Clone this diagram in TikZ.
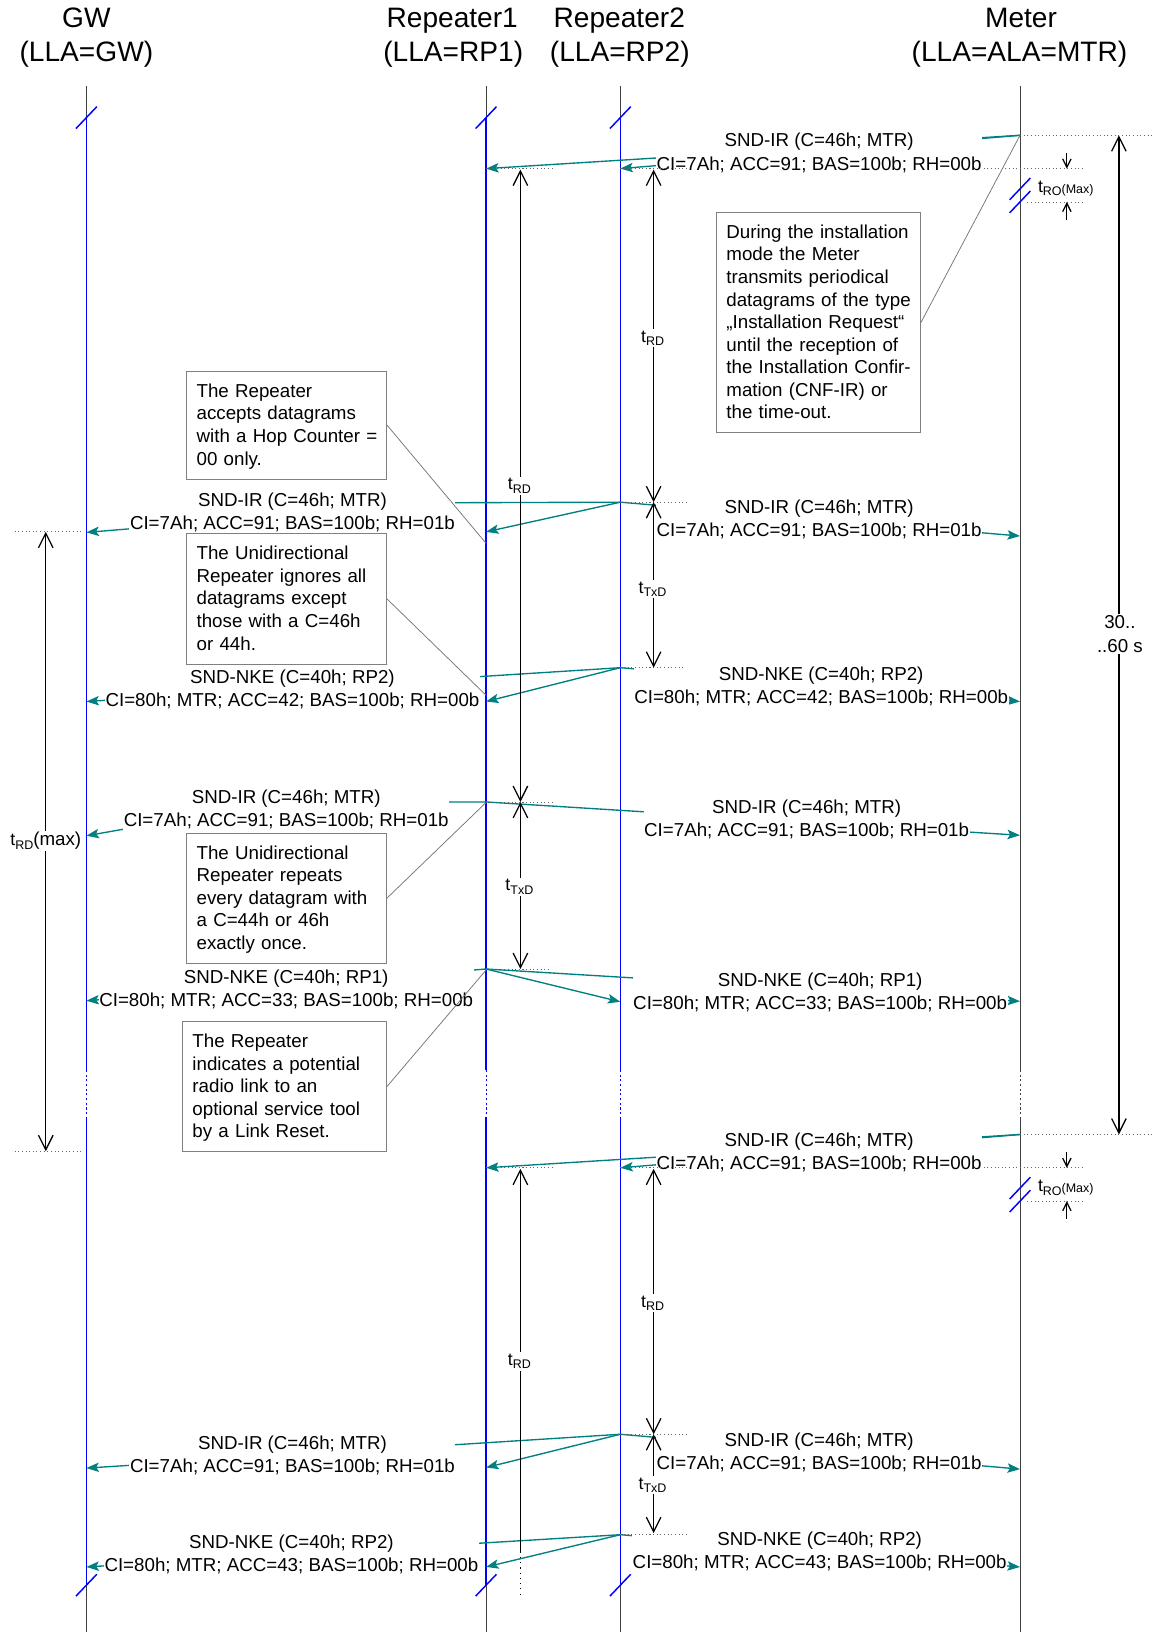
\documentclass[tikz,border=0pt]{standalone}
\usepackage{fontspec}
\setmainfont{Liberation Sans}
\usetikzlibrary{arrows.meta}
\newcommand\lblfont{\fontsize{18}{22.5}\selectfont}
\newcommand\notefont{\fontsize{18}{21.7}\selectfont}
\newcommand\ttlfont{\fontsize{27}{32}\selectfont}
\newcommand\tsym[1]{{\fontsize{17}{17}\selectfont t}{\fontsize{12}{12}\selectfont\raisebox{-3.5pt}{#1}}}
% note text: fixed lines, set flush left without any re-breaking
\newcommand\notelines[1]{\noindent\begin{tabular}{@{}l@{}}\rule{0pt}{18.2pt}#1\end{tabular}}
\begin{document}
\begin{tikzpicture}[x=1pt,y=-1pt,
  life/.style={draw=black!75,line width=0.9pt},
  lifeb/.style={draw=blue,line width=1.6pt},
  lifebrk/.style={line width=0.7pt,dash pattern=on 2pt off 2.5pt},
  slash/.style={draw=blue,line width=1.4pt},
  msg/.style={draw=teal,line width=1.3pt,-{Stealth[length=12pt,width=9pt,inset=2.5pt]}},
  lbl/.style={fill=white,inner xsep=0.5pt,inner ysep=2pt,align=center,font=\lblfont},
  ttl/.style={font=\ttlfont,inner sep=0pt,anchor=base},
  note/.style={draw=black!50,fill=white,line width=0.8pt,font=\notefont,align=left,inner xsep=9.5pt,inner ysep=0pt,anchor=north west},
  callout/.style={draw=black!55,line width=0.7pt},
  refl/.style={draw=black!60,line width=0.8pt,dash pattern=on 1pt off 2.5pt},
  dim/.style={draw=black,line width=1.2pt,{Straight Barb[length=14pt,width=14pt]}-{Straight Barb[length=14pt,width=14pt]}},
  dimS/.style={draw=black,line width=1.2pt,-{Straight Barb[length=8pt,width=8pt]}},
  dimT/.style={draw=black,line width=1.2pt,{Straight Barb[length=14pt,width=14pt]}-},
  dlbl/.style={fill=white,inner sep=1.5pt},
]
\fill[white] (0,0) rectangle (1108,1568);
\useasboundingbox (0,0) rectangle (1108,1568);

% ---------- titles ----------
\node[ttl] (tgw1) at (83,26.7) {GW};
\node[ttl] (tgw2) at (83,58.7) {(LLA=GW)};
\node[ttl] (tra1) at (434.5,26.7) {Repeater1};
\node[ttl] (tra2) at (435.5,58.7) {(LLA=RP1)};
\node[ttl] (trb1) at (595,26.7) {Repeater2};
\node[ttl] (trb2) at (595.5,58.7) {(LLA=RP2)};
\node[ttl] (tmt1) at (981,26.7) {Meter};
\node[ttl] (tmt2) at (979.5,58.7) {(LLA=ALA=MTR)};

% ---------- lifelines ----------
\foreach \n/\xx in {gw/83, ra/467, rb/596} {
  \coordinate (\n0) at (\xx,83);
  \coordinate (\n1) at (\xx,113);
  \coordinate (\n2) at (\xx,1028);
  \coordinate (\n3) at (\xx,1073);
  \coordinate (\n4) at (\xx,1523);
  \coordinate (\n5) at (\xx,1568);
  \draw[life] (\n0) -- (\n1);
  \draw[lifeb] (\n1) -- (\n2);
  \draw[lifeb,lifebrk] (\n2) -- (\n3);
  \draw[lifeb] (\n3) -- (\n4);
  \draw[life] (\n4) -- (\n5);
  \draw[slash] (\n1) ++(-10,10.5) -- ++(20,-21);
  \draw[slash] (\n4) ++(-10,10.5) -- ++(20,-21);
}
\coordinate (mt0) at (980,83);
\coordinate (mt2) at (980,1028);
\coordinate (mt3) at (980,1073);
\coordinate (mt5) at (980,1568);
\draw[life] (mt0) -- (mt2);
\draw[life,lifebrk] (mt2) -- (mt3);
\draw[life] (mt3) -- (mt5);
\foreach \yy in {181.5,194,1141.5,1154}
  \draw[slash] (980,\yy) ++(-10,10.5) -- ++(20,-21);

% ---------- messages ----------
% SND-IR from the meter (first period)
\coordinate (m1s) at (980,130);
\coordinate (m1a) at (467,162);
\coordinate (m1b) at (596,162);
\draw[msg] (m1s) -- (m1a);
\draw[msg] (m1s) -- (m1b);
% SND-IR repeated by Repeater2
\coordinate (m2s) at (596,482.5);
\coordinate (m2m) at (980,515);
\coordinate (m2a) at (467,511);
\coordinate (m2k1) at (438,483);
\coordinate (m2k2) at (125.5,508);
\coordinate (m2g) at (83,511.5);
\draw[msg] (m2s) -- (m2m);
\draw[msg] (m2s) -- (m2a);
\draw[msg] (m2s) -- (m2k1) -- (m2k2) -- (m2g);
% SND-NKE from Repeater2
\coordinate (m3s) at (596,641.5);
\coordinate (m3m) at (980,674);
\coordinate (m3a) at (467,674);
\coordinate (m3g) at (83,674);
\draw[msg] (m3s) -- (m3m);
\draw[msg] (m3s) -- (m3a);
\draw[msg] (m3s) -- (m3g);
% SND-IR repeated by Repeater1
\coordinate (m4s) at (467,770.5);
\coordinate (m4m) at (980,802.5);
\coordinate (m4k1) at (432,770.5);
\coordinate (m4k2) at (118.5,796.7);
\coordinate (m4g) at (83,803);
\draw[msg] (m4s) -- (m4m);
\draw[msg] (m4s) -- (m4k1) -- (m4k2) -- (m4g);
% SND-NKE from Repeater1
\coordinate (m5s) at (467,931);
\coordinate (m5g) at (83,961.5);
\coordinate (m5b) at (596,962.5);
\coordinate (m5m) at (980,962);
\draw[msg] (m5s) -- (m5g);
\draw[msg] (m5s) -- (m5b);
\draw[msg] (m5s) -- (m5m);
% SND-IR from the meter (next period)
\coordinate (m6s) at (980,1090);
\coordinate (m6a) at (467,1122);
\coordinate (m6b) at (596,1122);
\draw[msg] (m6s) -- (m6a);
\draw[msg] (m6s) -- (m6b);
% SND-IR repeated by Repeater2
\coordinate (m7s) at (596,1378);
\coordinate (m7m) at (980,1411.5);
\coordinate (m7a) at (467,1410);
\coordinate (m7g) at (83,1410.5);
\draw[msg] (m7s) -- (m7m);
\draw[msg] (m7s) -- (m7a);
\draw[msg] (m7s) -- (m7g);
% SND-NKE from Repeater2
\coordinate (m8s) at (596,1474.5);
\coordinate (m8m) at (980,1505.5);
\coordinate (m8a) at (467,1505.5);
\coordinate (m8g) at (83,1505.5);
\draw[msg] (m8s) -- (m8m);
\draw[msg] (m8s) -- (m8a);
\draw[msg] (m8s) -- (m8g);

% ---------- message labels ----------
\node[lbl] (l1) at (787,147) {SND-IR (C=46h; MTR)\\CI=7Ah; ACC=91; BAS=100b; RH=00b};
\node[lbl] (l2r) at (787,499) {SND-IR (C=46h; MTR)\\CI=7Ah; ACC=91; BAS=100b; RH=01b};
\node[lbl] (l2l) at (281,492.5) {SND-IR (C=46h; MTR)\\CI=7Ah; ACC=91; BAS=100b; RH=01b};
\node[lbl] (l3r) at (789,659.5) {SND-NKE (C=40h; RP2)\\CI=80h; MTR; ACC=42; BAS=100b; RH=00b};
\node[lbl] (l3l) at (281,662.5) {SND-NKE (C=40h; RP2)\\CI=80h; MTR; ACC=42; BAS=100b; RH=00b};
\node[lbl] (l4r) at (775,787.5) {SND-IR (C=46h; MTR)\\CI=7Ah; ACC=91; BAS=100b; RH=01b};
\node[lbl] (l4l) at (275,777.5) {SND-IR (C=46h; MTR)\\CI=7Ah; ACC=91; BAS=100b; RH=01b};
\node[lbl] (l5r) at (788,953.5) {SND-NKE (C=40h; RP1)\\CI=80h; MTR; ACC=33; BAS=100b; RH=00b};
\node[lbl] (l5l) at (275,950.5) {SND-NKE (C=40h; RP1)\\CI=80h; MTR; ACC=33; BAS=100b; RH=00b};
\node[lbl] (l6) at (787,1107) {SND-IR (C=46h; MTR)\\CI=7Ah; ACC=91; BAS=100b; RH=00b};
\node[lbl] (l7r) at (787,1395.5) {SND-IR (C=46h; MTR)\\CI=7Ah; ACC=91; BAS=100b; RH=01b};
\node[lbl] (l7l) at (281,1398.5) {SND-IR (C=46h; MTR)\\CI=7Ah; ACC=91; BAS=100b; RH=01b};
\node[lbl] (l8r) at (787.5,1490.5) {SND-NKE (C=40h; RP2)\\CI=80h; MTR; ACC=43; BAS=100b; RH=00b};
\node[lbl] (l8l) at (280,1493.5) {SND-NKE (C=40h; RP2)\\CI=80h; MTR; ACC=43; BAS=100b; RH=00b};

% ---------- dotted reference lines ----------
\foreach \xa/\xb/\yy in {467/532/162, 596/661/162, 945/1041/162, 987/1041/194,
    980/1108/130, 596/660/482.5, 596/658/641.5, 467/533/770.5, 467/530/931,
    14/80/511, 14/80/1106, 980/1108/1090, 467/532/1122, 596/661/1122,
    945/1041/1122, 987/1041/1154, 596/661/1378, 596/660/1474.5}
  \draw[refl] (\xa,\yy) -- (\xb,\yy);

% ---------- time intervals ----------
\draw[dim] (500,163) -- (500,770.5);
\node[dlbl] (trda) at (499,467) {\tsym{RD}};
\draw[dim] (500,770.5) -- (500,931);
\node[dlbl] (ttxa) at (499,852) {\tsym{TxD}};
\draw[dim] (628,163) -- (628,482.5);
\node[dlbl] (trdb) at (627,325) {\tsym{RD}};
\draw[dim] (628,482.5) -- (628,641.5);
\node[dlbl] (ttxb) at (627,566) {\tsym{TxD}};
\draw[dim] (1075,130) -- (1075,1090);
\node[dlbl,align=center,font=\lblfont] (tper) at (1076,609) {30..\\..60 s};
\draw[dim] (44,511) -- (44,1106);
\node[dlbl] (trdmax) at (44,808) {\tsym{RD}{\fontsize{18}{18}\selectfont(max)}};
\draw[dimS] (1025,147) -- (1025,162);
\draw[dimS] (1025,211) -- (1025,194);
\node[inner sep=0pt] (tro1) at (1024,181) {{\fontsize{17}{17}\selectfont t}{\fontsize{12}{12}\selectfont\raisebox{-3.5pt}{RO}\raisebox{-1pt}{(Max)}}};
\draw[dimS] (1025,1107) -- (1025,1122);
\draw[dimS] (1025,1171) -- (1025,1154);
\node[inner sep=0pt] (tro2) at (1024,1141) {{\fontsize{17}{17}\selectfont t}{\fontsize{12}{12}\selectfont\raisebox{-3.5pt}{RO}\raisebox{-1pt}{(Max)}}};
\draw[dim] (628,1123) -- (628,1378);
\node[dlbl] (trdc) at (627,1252) {\tsym{RD}};
\draw[dim] (628,1378) -- (628,1473);
\node[dlbl] (ttxc) at (627,1427) {\tsym{TxD}};
\draw[dimT] (500,1123) -- (500,1491);
\draw[draw=black,line width=1.2pt,dash pattern=on 1pt off 4pt] (500,1491) -- (500,1534);
\node[dlbl] (trdd) at (499,1308) {\tsym{RD}};

% ---------- notes ----------
\node[note,text width=173pt,minimum height=104pt] (n1) at (179,356)
  {\notelines{The Repeater\\accepts datagrams\\with a Hop Counter =\\00 only.}};
\node[note,text width=173pt,minimum height=126pt] (n2) at (179,512)
  {\notelines{The Unidirectional\\Repeater ignores all\\datagrams except\\those with a C=46h\\or 44h.}};
\node[note,text width=173pt,minimum height=125pt] (n3) at (179,800)
  {\notelines{The Unidirectional\\Repeater repeats\\every datagram with\\a C=44h or 46h\\exactly once.}};
\node[note,text width=177pt,minimum height=125pt] (n4) at (175,981)
  {\notelines{The Repeater\\indicates a potential\\radio link to an\\optional service tool\\by a Link Reset.}};
\node[note,text width=177pt,minimum height=211pt] (n5) at (688,204)
  {\notelines{During the installation\\mode the Meter\\transmits periodical\\datagrams of the type\\„Installation Request“\\until the reception of\\the Installation Confir-\\mation (CNF-IR) or\\the time-out.}};
\coordinate (c1) at (467,522);
\coordinate (c2) at (467,668);
\coordinate (c3) at (467,771);
\coordinate (c4) at (467,932);
\coordinate (c5) at (980,130);
\draw[callout] (n1.east) -- (c1);
\draw[callout] (n2.east) -- (c2);
\draw[callout] (n3.east) -- (c3);
\draw[callout] (n4.east) -- (c4);
\draw[callout] (n5.east) -- (c5);
\end{tikzpicture}
\end{document}
